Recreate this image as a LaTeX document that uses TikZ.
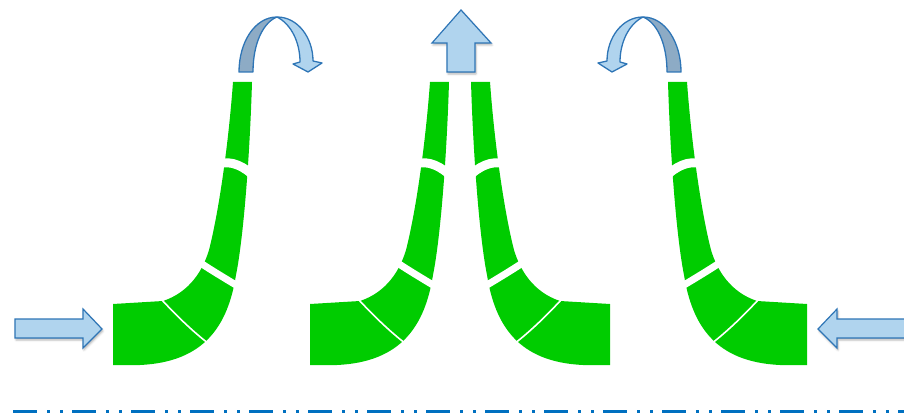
\documentclass[tikz,border=0pt]{standalone}
\usetikzlibrary{shadows.blur}

\definecolor{bladegreen}{RGB}{0,204,0}
\definecolor{arrowlight}{RGB}{176,212,238}
\definecolor{arrowback}{RGB}{141,171,197}
\definecolor{arrowedge}{RGB}{46,117,182}
\definecolor{dashblue}{RGB}{0,112,192}

% One blade: a block at the foot, a sweeping bend and a tall narrow tip,
% split into four pieces by white cuts.
\newcommand\greenblade{%
  \fill[bladefill] (113,304) -- (163,301)
    .. controls (190,292) and (203,270) .. (209,250)
    .. controls (218,215) and (228,150) .. (233,82)
    -- (252,82)
    .. controls (250,150) and (244,235) .. (236,275)
    .. controls (228,325) and (205,362) .. (140,365)
    -- (113,365) -- cycle;
  \draw[cutline=9] (219,164) .. controls (231,160) and (244,166) .. (256,178);
  \draw[cutline=7] (199,262) .. controls (211,270) and (226,279) .. (241,288);
  \draw[cutline=1.6] (161,299) .. controls (176,315) and (191,330) .. (209,344);
}

% Half-turn ribbon arrow: the back of the ribbon on the rising leg,
% the front on the falling leg that ends in the head.
\newcommand\turnarrow{%
  \filldraw[backpiece] (239,72) .. controls (239,42) and (255,17) .. (277,17)
    .. controls (264,22) and (253,42) .. (253,72) -- cycle;
  \filldraw[frontpiece] (277,17) .. controls (298,17) and (313,38) .. (313,61)
    -- (322,63) -- (308,72) -- (293,64) -- (300,62)
    .. controls (300,42) and (291,24) .. (277,17) -- cycle;
}

\begin{document}
\begin{tikzpicture}[x=1pt,y=-1pt,
  bladefill/.style={fill=bladegreen},
  cutline/.style={draw=white,line width=#1},
  soft/.style={blur shadow={shadow xshift=1pt,shadow yshift=-2pt,
      shadow blur radius=2pt,shadow opacity=30}},
  frontpiece/.style={fill=arrowlight,draw=arrowedge,line width=1.3pt,line join=round},
  backpiece/.style={fill=arrowback,draw=arrowedge,line width=1.3pt,line join=round},
  blockarrow/.style={fill=arrowlight,draw=arrowedge,line width=1.2pt,line join=miter,soft},
  baseline rule/.style={draw=dashblue,line width=3pt,
      dash pattern=on 24pt off 10pt on 3pt off 10pt on 3pt off 9pt}]

\useasboundingbox (0,0) rectangle (904,417);
\clip (0,0) rectangle (904,417);

% the four blades: two on the left as drawn, two mirrored about x = 460
\begin{scope}\greenblade\end{scope}
\begin{scope}[xshift=197pt]\greenblade\end{scope}
\begin{scope}[xshift=920pt,xscale=-1,xshift=197pt]\greenblade\end{scope}
\begin{scope}[xshift=920pt,xscale=-1]\greenblade\end{scope}

% turning arrows above the outer blades
\begin{scope}\turnarrow\end{scope}
\begin{scope}[xshift=920pt,xscale=-1]\turnarrow\end{scope}

% straight arrow above the middle pair
\filldraw[blockarrow] (447,72) -- (447,43) -- (432,43) -- (461,10)
  -- (491,43) -- (475,43) -- (475,72) -- cycle;

% inflow arrows at both sides
\filldraw[blockarrow] (15,319) -- (83,319) -- (83,309) -- (102,329)
  -- (83,348) -- (83,338) -- (15,338) -- cycle;
\filldraw[blockarrow] (910,319) -- (837,319) -- (837,309) -- (818,329)
  -- (837,348) -- (837,338) -- (910,338) -- cycle;

% dash-dot-dot rule along the bottom
\coordinate (ruleA) at (13,411);
\coordinate (ruleB) at (904,411);
\draw[baseline rule] (ruleA) -- (ruleB);

\end{tikzpicture}
\end{document}
